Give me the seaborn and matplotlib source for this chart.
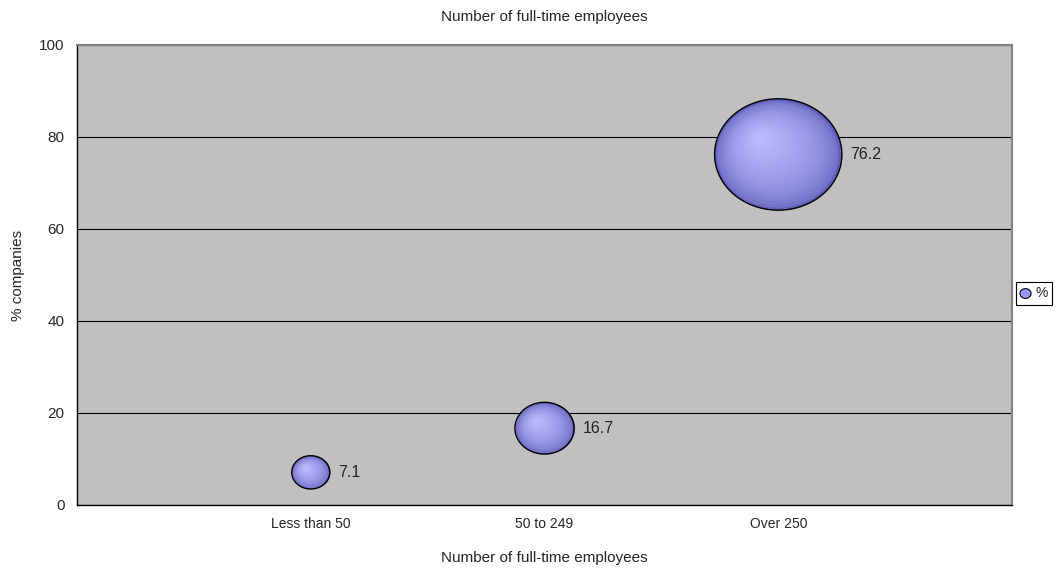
import numpy as np
import pandas as pd
import matplotlib
matplotlib.use("Agg")
import matplotlib.pyplot as plt
import seaborn as sns
from matplotlib.path import Path
from matplotlib.lines import Line2D
from matplotlib.transforms import offset_copy
from matplotlib.colors import to_rgb

# Data
categories = ["Less than 50", "50 to 249", "Over 250"]
percent = [7.1, 16.7, 76.2]
y_ticks = [0, 20, 40, 60, 80, 100]

df = pd.DataFrame({
    "pos": np.arange(1, len(categories) + 1),
    "percent": percent,
    "label": categories,
})

sns.set_style("white")
plt.rcParams["font.family"] = ["Liberation Sans", "DejaVu Sans"]

fig = plt.figure(figsize=(10.57, 5.68), dpi=100)
ax = fig.add_axes([77 / 1057, 63 / 568, 935 / 1057, 460 / 568])
ax.set_facecolor("#c0c0c0")

# Slightly flattened ellipse used as the bubble marker
theta = np.linspace(0, 2 * np.pi, 120)
ellipse = Path(np.column_stack([np.cos(theta), 0.875 * np.sin(theta)]), closed=True)

S_MIN, S_MAX = 750.0, 8400.0          # marker areas (pt^2) for the smallest / largest value
v_min, v_max = min(percent), max(percent)

dark = np.array(to_rgb("#6060ba"))
light = np.array(to_rgb("#babaff"))
n_layers = 22

for i in range(len(df)):
    row = df.iloc[[i]]
    s_full = S_MIN + (row["percent"].iloc[0] - v_min) / (v_max - v_min) * (S_MAX - S_MIN)
    w = np.sqrt(s_full)               # marker width in points
    h = 0.875 * w
    for k in range(n_layers):
        t = k / (n_layers - 1)
        f = 1 - 0.93 * t
        col = dark + (light - dark) * t ** 0.5
        dx = (1 - f) * (-0.32 * w / 2)
        dy = (1 - f) * (0.32 * h / 2)
        tr = offset_copy(ax.transData, fig=fig, x=dx, y=dy, units="points")
        sns.scatterplot(
            data=row, x="pos", y="percent", size="percent",
            sizes=(S_MIN * f ** 2, S_MAX * f ** 2), size_norm=(v_min, v_max),
            marker=ellipse, color=tuple(col), linewidth=0,
            transform=tr, legend=False, ax=ax, zorder=3 + k * 0.01,
        )

# Bubble outlines
sns.scatterplot(
    data=df, x="pos", y="percent", size="percent",
    sizes=(S_MIN, S_MAX), size_norm=(v_min, v_max),
    marker=ellipse, facecolor="none", edgecolor="black", linewidth=1.0,
    legend=False, ax=ax, zorder=4,
)

# Value labels to the right of each bubble
for p, v in zip(df["pos"], df["percent"]):
    s = S_MIN + (v - v_min) / (v_max - v_min) * (S_MAX - S_MIN)
    ax.annotate(f"{v:.1f}", xy=(p, v), xytext=(np.sqrt(s) / 2 + 6, 0),
                textcoords="offset points", va="center", ha="left",
                fontsize=11.5, color="#222222", zorder=5)

# Axes
ax.set_xlim(0, 4)
ax.set_ylim(0, 100)
ax.set_xticks([0, 1, 2, 3, 4])
ax.set_xticklabels([""] + categories + [""], fontsize=10)
ax.set_yticks(y_ticks)
ax.set_yticklabels([str(v) for v in y_ticks], fontsize=11)
ax.tick_params(axis="both", direction="out", length=5, width=1, color="black", pad=4)
ax.yaxis.grid(True, color="black", linewidth=0.8)
ax.set_axisbelow(True)

for side in ("left", "bottom"):
    ax.spines[side].set_color("black")
    ax.spines[side].set_linewidth(1.0)
for side in ("top", "right"):
    ax.spines[side].set_color("#808080")
    ax.spines[side].set_linewidth(1.5)

ax.set_title("Number of full-time employees", fontsize=11, pad=17)
ax.set_xlabel("Number of full-time employees", fontsize=11, labelpad=14)
ax.set_ylabel("% companies", fontsize=11, labelpad=10)

handle = Line2D([], [], linestyle="none", marker=ellipse, markersize=8,
                markerfacecolor="#9999ff", markeredgecolor="black", markeredgewidth=0.8)
leg = ax.legend([handle], ["%"], loc="center left", bbox_to_anchor=(1.004, 0.46),
                frameon=True, fancybox=False, edgecolor="black", framealpha=1,
                fontsize=10, handlelength=0.8, handletextpad=0.3, borderpad=0.3,
                borderaxespad=0)
leg.get_frame().set_linewidth(0.8)

fig.savefig("out.png", dpi=100, facecolor="white")
